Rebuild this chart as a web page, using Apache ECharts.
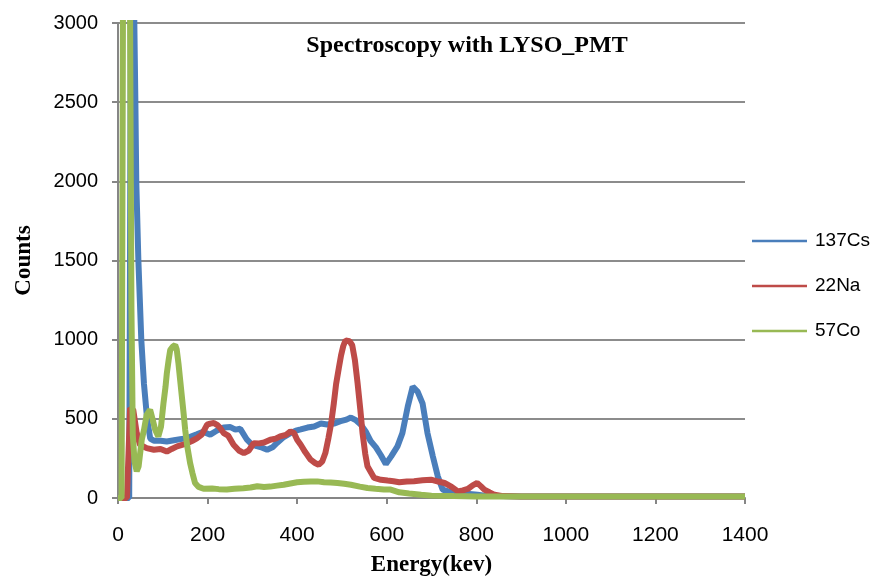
<!DOCTYPE html>
<html>
<head>
<meta charset="utf-8">
<script src="https://cdn.jsdelivr.net/npm/echarts@6/dist/echarts.min.js"></script>
<style>html,body{margin:0;padding:0;background:#fff}#c{width:876px;height:578px}</style>
</head>
<body>
<div id="c"></div>
<script>
const seriesNames = ['137Cs', '22Na', '57Co'];
const xTicks = [0, 200, 400, 600, 800, 1000, 1200, 1400];
const yTicks = [0, 500, 1000, 1500, 2000, 2500, 3000];

const csEnergy = [0,10,20,25,31,36,38.8,40.8,45.5,52,58,65,72,80,95,109,125,146,160,176,190,206,221,236,251,262,273,288,298,310,322,333,345,355,370,385,397,408,423,438,453,467,482,497,510,520,532,542,553,564,576,587,598,610,624,635,647,658,669,680,691,703,714,725,744,773,803,819,850,900,1000,1100,1200,1300,1400];
const csCounts = [0,0,0,0,5000,3100,2500,2000,1500,1000,720,500,375,362,362,357,365,375,385,402,418,400,426,445,448,432,437,368,340,327,318,305,320,348,385,410,425,433,445,452,470,464,470,485,495,508,490,464,420,360,320,270,215,263,326,410,578,703,672,598,410,263,137,53,36,28,20,15,12,10,10,10,10,10,10];

const naEnergy = [0,20,24,27,30,34,41.8,49,64,80,95,109,120,132,143,154,165,176,187,199,206,214,222,228,236,246,258,270,281,292,303,315,326,340,352,362,375,385,393,400,408,418,430,440,448,456,463,470,476,482,487,493,498,503,508,512,517,523,529,535,541,546,552,557,572,587,602,615,628,645,661,680,699,715,729,745,759,770,781,792,802,810,818,830,841,860,900,1000,1100,1200,1300,1400];
const naCounts = [0,0,0,568,575,557,410,336,315,305,310,293,310,326,335,346,360,377,400,463,470,474,460,443,410,394,336,300,283,300,346,345,350,368,375,389,399,420,410,368,336,290,242,221,210,230,284,380,473,600,720,820,900,960,995,1007,990,965,870,724,560,410,280,200,127,115,110,106,100,104,106,112,116,104,95,70,42,48,57,80,95,75,53,35,20,12,10,10,10,10,10,10];

const coEnergy = [0,8,10,12,16,22,25,27,30,33,37,41.8,46,53,58,64,71.7,77,83,90,96,101.5,106,109,113,116.5,122,127.7,131,135,139,142.6,147,150,155,161,166,172,180,191,210,225,243,260,280,296,311,326,340,355,370,385,400,415,430,445,460,475,490,505,520,540,557,575,594,609,628,650,677,700,750,800,900,1000,1100,1200,1300,1400];
const coCounts = [0,0,0,4000,5200,5000,4000,3000,1200,400,230,169,200,367,430,525,557,500,431,389,450,598,700,787,870,934,955,966,940,850,740,640,520,431,320,221,160,95,70,58,60,56,54,58,62,66,74,70,72,78,84,92,99,102,104,105,100,98,95,90,84,72,63,58,53,53,36,28,20,15,12,10,10,10,10,10,10,10];

function pairs(xs, ys) { return xs.map((x, i) => [x, ys[i]]); }

const colors = ['#4A7EBB', '#BE4B48', '#98B954'];
const chart = echarts.init(document.getElementById('c'), null, {renderer: 'canvas'});
chart.setOption({
  animation: false,
  backgroundColor: '#ffffff',
  title: {
    text: 'Spectroscopy with LYSO_PMT',
    left: 462, top: 29, textAlign: 'center',
    textStyle: {fontFamily: 'Liberation Serif', fontWeight: 'bold', fontSize: 24, color: '#000'}
  },
  legend: {
    orient: 'vertical',
    left: 752, top: 231, padding: 0,
    itemWidth: 55, itemHeight: 2.5, itemGap: 25,
    icon: 'rect',
    data: seriesNames,
    textStyle: {fontFamily: 'Liberation Sans', fontSize: 19, color: '#000', lineHeight: 20, padding: [0,0,0,3]}
  },
  grid: {left: 118, right: 131, top: 23, bottom: 80, containLabel: false, outerBoundsMode: 'none'},
  xAxis: {
    type: 'value', min: 0, max: 1400, interval: 200,
    name: 'Energy(kev)', nameLocation: 'middle', nameGap: 56,
    nameTextStyle: {fontFamily: 'Liberation Serif', fontWeight: 'bold', fontSize: 23, color: '#000'},
    axisLine: {show: true, lineStyle: {color: '#868686', width: 2}},
    axisTick: {show: true, length: 6, lineStyle: {color: '#868686', width: 2}},
    axisLabel: {margin: 27, fontFamily: 'Liberation Sans', fontSize: 21, color: '#000',
      formatter: v => xTicks.includes(v) ? String(v) : ''},
    splitLine: {show: false}
  },
  yAxis: {
    type: 'value', min: 0, max: 3000, interval: 500,
    name: 'Counts', nameLocation: 'middle', nameGap: 82, nameRotate: 90,
    nameTextStyle: {fontFamily: 'Liberation Serif', fontWeight: 'bold', fontSize: 23, color: '#000'},
    axisLine: {show: true, lineStyle: {color: '#868686', width: 2}},
    axisTick: {show: true, length: 6, lineStyle: {color: '#868686', width: 2}},
    axisLabel: {margin: 20, fontFamily: 'Liberation Sans', fontSize: 20, color: '#000',
      formatter: v => yTicks.includes(v) ? String(v) : ''},
    splitLine: {show: true, lineStyle: {color: '#8C8C8C', width: 2}}
  },
  series: [
    {name: seriesNames[0], type: 'line', data: pairs(csEnergy, csCounts), showSymbol: false, symbol: 'none',
      lineStyle: {color: colors[0], width: 6}, itemStyle: {color: colors[0]}, clip: true},
    {name: seriesNames[1], type: 'line', data: pairs(naEnergy, naCounts), showSymbol: false, symbol: 'none',
      lineStyle: {color: colors[1], width: 6}, itemStyle: {color: colors[1]}, clip: true},
    {name: seriesNames[2], type: 'line', data: pairs(coEnergy, coCounts), showSymbol: false, symbol: 'none',
      lineStyle: {color: colors[2], width: 6}, itemStyle: {color: colors[2]}, clip: true}
  ]
});
</script>
</body>
</html>
